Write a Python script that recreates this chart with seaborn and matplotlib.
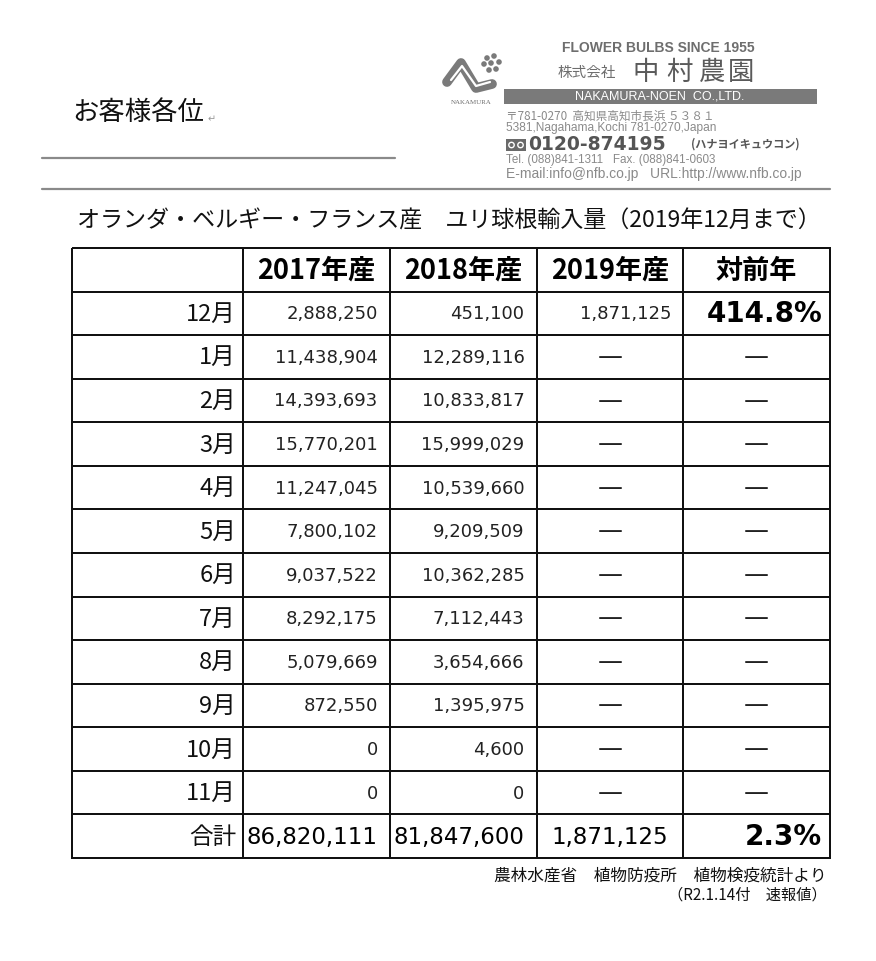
import numpy as np
import pandas as pd
import matplotlib
matplotlib.use("Agg")
import matplotlib.pyplot as plt
import seaborn as sns
from matplotlib.colors import ListedColormap
from matplotlib.patches import Rectangle, Circle

# ---------------- data ----------------
months = ["12月", "1月", "2月", "3月", "4月", "5月", "6月", "7月", "8月", "9月", "10月", "11月"]
total_label = "合計"
col_labels = ["2017年産", "2018年産", "2019年産", "対前年"]
v2017 = [2888250, 11438904, 14393693, 15770201, 11247045, 7800102, 9037522, 8292175, 5079669, 872550, 0, 0]
v2018 = [451100, 12289116, 10833817, 15999029, 10539660, 9209509, 10362285, 7112443, 3654666, 1395975, 4600, 0]
v2019 = [1871125, None, None, None, None, None, None, None, None, None, None, None]
yoy = ["414.8%", None, None, None, None, None, None, None, None, None, None, None]
totals = [86820111, 81847600, 1871125]
total_yoy = "2.3%"

title = "オランダ・ベルギー・フランス産　ユリ球根輸入量（2019年12月まで）"
greeting = "お客様各位"
source1 = "農林水産省　植物防疫所　植物検疫統計より"
source2 = "（R2.1.14付　速報値）"

# ---------------- style ----------------
sns.set_style("white")
plt.rcParams["font.family"] = ["Noto Sans CJK JP", "DejaVu Sans"]

W, H = 876, 961
fig = plt.figure(figsize=(W / 100, H / 100), dpi=100)
fig.patch.set_facecolor("white")


def px_axes(x0, y0, x1, y1):
    return fig.add_axes([x0 / W, 1 - y1 / H, (x1 - x0) / W, (y1 - y0) / H])


# overlay axes in pixel coordinates
ax0 = fig.add_axes([0, 0, 1, 1])
ax0.set_xlim(0, W)
ax0.set_ylim(H, 0)
ax0.axis("off")

# ---- greeting + rules ----
ax0.text(72, 113, greeting, fontsize=19, va="center", ha="left", color="#111")
ax0.text(208, 119, "↵", fontsize=7, va="center", ha="left", color="#999",
         family=["DejaVu Sans"])
ax0.plot([42, 395], [158, 158], color="#8a8a8a", lw=1.6)
ax0.plot([42, 830], [189, 189], color="#8a8a8a", lw=1.6)

# ---- company block ----
gray = "#6e6e6e"
lgray = "#8a8a8a"
ax0.text(562, 48, "FLOWER BULBS SINCE 1955", fontsize=10, fontweight="bold",
         family=["Liberation Sans"], color=gray, va="center", ha="left")
ax0.text(558, 73, "株式会社", fontsize=10.5, color=gray, va="center", ha="left")
for ch, cx in zip("中村農園", [646, 679, 712, 741]):
    ax0.text(cx, 72, ch, fontsize=19, color="#5a5a5a", va="center", ha="center")
ax0.add_patch(Rectangle((504, 89), 313, 15, color="#7a7a7a", lw=0))
ax0.text(660, 96.5, "NAKAMURA-NOEN  CO.,LTD.", fontsize=9, family=["Liberation Sans"],
         color="white", va="center", ha="center")
ax0.text(506, 116, "〒781-0270  高知県高知市長浜 ５３８１", fontsize=8.4, color=lgray,
         va="center", ha="left")
ax0.text(506, 128, "5381,Nagahama,Kochi 781-0270,Japan", fontsize=8.6,
         family=["Liberation Sans"], color=lgray, va="center", ha="left")
# free-dial icon
ax0.add_patch(Rectangle((506, 139), 20, 12, facecolor="#6a6a6a", lw=0))
for cxx in (511.5, 520.5):
    ax0.add_patch(Circle((cxx, 145), 3.4, facecolor="white", lw=0))
    ax0.add_patch(Circle((cxx, 145), 2.0, facecolor="#6a6a6a", lw=0))
ax0.text(528, 144, "0120-874195", fontsize=13.5, fontweight="bold",
         family=["DejaVu Sans"], color="#555", va="center", ha="left")
ax0.text(691, 144, "(ハナヨイキュウコン)", fontsize=8, fontweight="bold",
         color="#555", va="center", ha="left")
ax0.text(506, 160, "Tel. (088)841-1311   Fax. (088)841-0603", fontsize=8.4,
         family=["Liberation Sans"], color=lgray, va="center", ha="left")
ax0.text(506, 174, "E-mail:info@nfb.co.jp   URL:http://www.nfb.co.jp", fontsize=10,
         family=["Liberation Sans"], color=lgray, va="center", ha="left")

# logo mark
ax0.plot([447, 461, 476, 492], [82, 63, 88, 84], color="#7a7a7a", lw=7,
         solid_capstyle="round", solid_joinstyle="round")
ax0.plot([451, 462, 476, 490], [80, 66, 86, 82], color="white", lw=1.6)
for (cx, cy) in [(487, 58), (494, 56), (499, 62), (496, 69), (489, 70), (484, 64), (491, 63)]:
    ax0.add_patch(Circle((cx, cy), 2.8, facecolor="#7a7a7a", lw=0))
ax0.text(471, 103, "NAKAMURA", fontsize=5, family=["Liberation Serif"], color=gray,
         va="center", ha="center")

# ---- title ----
ax0.text(77, 221, title, fontsize=16.6, color="#111", va="center", ha="left")

# ---- footer ----
ax0.text(827, 876, source1, fontsize=12, color="#111", va="center", ha="right")
ax0.text(827, 895, source2, fontsize=11, color="#111", va="center", ha="right")

# ---------------- table ----------------
row_labels = [""] + months + [total_label]
n_rows = len(row_labels)
grid = pd.DataFrame(np.zeros((n_rows, len(col_labels))), index=row_labels, columns=col_labels)
lab_grid = pd.DataFrame(np.zeros((n_rows, 1)), index=row_labels, columns=["label"])

white_cmap = ListedColormap(["white"])
TOP, BOT = 248, 858
axL = px_axes(72, TOP, 243, BOT)
axT = px_axes(243, TOP, 830, BOT)
for a, g in ((axL, lab_grid), (axT, grid)):
    sns.heatmap(g, cmap=white_cmap, cbar=False, linewidths=1.2, linecolor="#111",
                xticklabels=False, yticklabels=False, ax=a)
    a.collections[0].set_clip_on(False)
    a.set_xlabel("")
    a.set_ylabel("")

# row labels
for i, lab in enumerate(row_labels):
    if lab:
        axL.text(1 - 7 / 171, i + 0.52, lab, fontsize=17, color="#111",
                 va="center", ha="right")

colw = 587 / 4
pad = 12 / colw
# header
for j, c in enumerate(col_labels):
    axT.text(j + 0.5, 0.52, c, fontsize=19.5, fontweight="bold", color="#000",
             va="center", ha="center")


def fmt(v):
    return f"{v:,}"


num_kw = dict(fontsize=13, color="#222", va="center", ha="right", family=["DejaVu Sans"])
dash_kw = dict(fontsize=18, color="#222", va="center", ha="center", family=["DejaVu Sans"])
for r in range(len(months)):
    y = r + 1.52
    axT.text(1 - pad, y, fmt(v2017[r]), **num_kw)
    axT.text(2 - pad, y, fmt(v2018[r]), **num_kw)
    if v2019[r] is None:
        axT.text(2.5, y - 0.02, "—", **dash_kw)
    else:
        axT.text(3 - pad, y, fmt(v2019[r]), **num_kw)
    if yoy[r] is None:
        axT.text(3.5, y - 0.02, "—", **dash_kw)
    else:
        axT.text(4 - 8 / colw, y, yoy[r], fontsize=20, fontweight="bold",
                 family=["DejaVu Sans"], color="#000", va="center", ha="right")

# totals
yt = n_rows - 0.48
tot_kw = dict(fontsize=16.5, color="#000", va="center", ha="right", family=["DejaVu Sans"])
axT.text(1 - 12 / colw, yt, fmt(totals[0]), **tot_kw)
axT.text(2 - 12 / colw, yt, fmt(totals[1]), **tot_kw)
axT.text(3 - 15 / colw, yt, fmt(totals[2]), **tot_kw)
axT.text(4 - 8 / colw, yt, total_yoy, fontsize=20, fontweight="bold",
         family=["DejaVu Sans"], color="#000", va="center", ha="right")

fig.savefig("out.png", dpi=100, facecolor="white")
